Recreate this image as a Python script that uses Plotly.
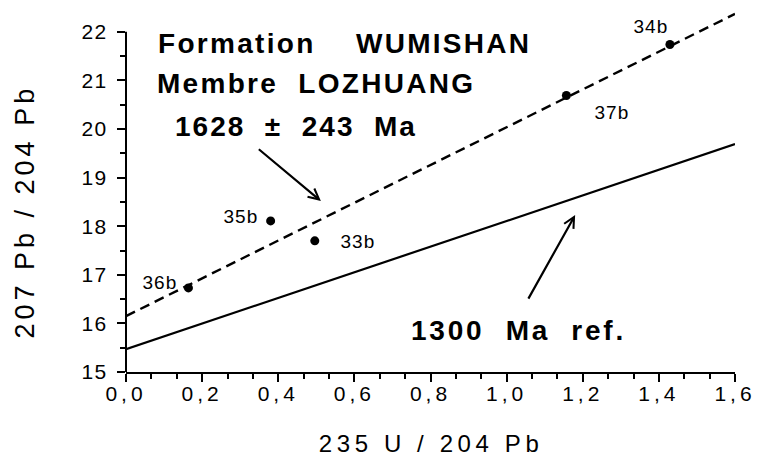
import json
import plotly.graph_objects as go

# Whole-rock samples: 235U/204Pb versus 207Pb/204Pb
sample_ids = ["36b", "35b", "33b", "37b", "34b"]
u235_pb204 = [0.164, 0.380, 0.496, 1.157, 1.429]
pb207_pb204 = [16.73, 18.11, 17.70, 20.69, 21.74]

# Isochron through the samples (dashed) and the 1300 Ma reference line (solid)
isochron_x = [0.0, 1.6]
isochron_y = [16.15, 22.37]
reference_x = [0.0, 1.6]
reference_y = [15.47, 19.69]

# Axis ticks
x_ticks = [0.0, 0.2, 0.4, 0.6, 0.8, 1.0, 1.2, 1.4, 1.6]
y_ticks = [15, 16, 17, 18, 19, 20, 21, 22]
x_tick_labels = [f"{v:.1f}".replace(".", ",") for v in x_ticks]

FONT = "Liberation Sans, Arial, Helvetica, sans-serif"
Y_TOP = 22.45  # room for the isochron running above the last tick
PLOT_W, PLOT_H = 612, 362

fig = go.Figure()

fig.add_trace(go.Scatter(
    x=reference_x, y=reference_y, mode="lines",
    line=dict(color="black", width=2.2),
    hoverinfo="skip",
))
fig.add_trace(go.Scatter(
    x=isochron_x, y=isochron_y, mode="lines",
    line=dict(color="black", width=2.4, dash="10px,6px"),
    hoverinfo="skip",
))
fig.add_trace(go.Scatter(
    x=u235_pb204, y=pb207_pb204, mode="markers",
    marker=dict(color="black", size=9),
    text=sample_ids, hoverinfo="text",
))

annotations = []
spacing = []  # letter spacing (px) applied to each annotation, in order


def add_text(text, x, y, size, ls, bold=False, xanchor="left", **kw):
    annotations.append(dict(
        text=text, x=x, y=y, xanchor=xanchor, yanchor="middle",
        showarrow=False, align="left" if xanchor == "left" else "center",
        font=dict(family=FONT, size=size, color="black",
                  weight="bold" if bold else "normal"),
        **kw,
    ))
    spacing.append(ls)


NB = "\u00a0"

# Title block
add_text("Formation" + NB * 4 + "WUMISHAN", 0.078, 21.77, 28, 2.3, bold=True)
add_text("Membre" + NB * 2 + "LOZHUANG", 0.076, 20.94, 28, 2.3, bold=True)
add_text("1628" + NB * 2 + "\u00b1" + NB * 2 + "243" + NB * 2 + "Ma", 0.123, 20.06, 28, 2.0, bold=True)
add_text("1300" + NB * 2 + "Ma" + NB * 2 + "ref.", 0.744, 15.86, 28, 2.8, bold=True)

# Sample labels, offset in pixels from each point
label_dx = [-28, -30, 43, 46, -19]
label_dy = [5, 4, -1, -17, 18]
for sid, xv, yv, dx, dy in zip(sample_ids, u235_pb204, pb207_pb204, label_dx, label_dy):
    add_text(sid, xv, yv, 19, 1.0, xanchor="center", xshift=dx, yshift=dy)

# Arrows pointing at the two lines
arrows = [
    dict(head=(0.512, 18.52), tail=(0.345, 19.61)),
    dict(head=(1.180, 18.23), tail=(1.055, 16.48)),
]
for a in arrows:
    annotations.append(dict(
        x=a["head"][0], y=a["head"][1], ax=a["tail"][0], ay=a["tail"][1],
        xref="x", yref="y", axref="x", ayref="y", text="",
        showarrow=True, arrowhead=5, arrowsize=0.95, arrowwidth=2.2,
        arrowcolor="black", standoff=0,
    ))
    spacing.append(0)

# Axis titles
add_text("207 Pb / 204 Pb", (25 - 126) / PLOT_W, (372 - 211) / PLOT_H, 27, 4.0,
         xanchor="center", xref="paper", yref="paper", textangle=-90)
add_text("235 U / 204 Pb", (432 - 126) / PLOT_W, (372 - 443) / PLOT_H, 24, 4.6,
         xanchor="center", xref="paper", yref="paper")

fig.update_layout(
    width=760, height=464, autosize=False,
    margin=dict(l=126, r=22, t=10, b=92, pad=0),
    paper_bgcolor="white", plot_bgcolor="white",
    showlegend=False,
    annotations=annotations,
    shapes=[dict(
        type="line", xref="paper", yref="paper",
        x0=0, x1=0, y0=0, y1=(y_ticks[-1] - y_ticks[0]) / (Y_TOP - y_ticks[0]),
        line=dict(color="black", width=2),
    )],
    xaxis=dict(
        range=[0, 1.6], showgrid=False, zeroline=False,
        showline=True, linecolor="black", linewidth=2,
        ticks="outside", ticklen=8, tickwidth=2, tickcolor="black",
        tickmode="array", tickvals=x_ticks, ticktext=x_tick_labels,
        tickfont=dict(family=FONT, size=21, color="black"),
        ticklabelstandoff=-6,
        minor=dict(tickmode="array",
                   tickvals=[i * 0.2 / 3 for i in range(25) if i % 3],
                   ticks="outside", ticklen=5, tickwidth=2, tickcolor="black",
                   showgrid=False),
    ),
    yaxis=dict(
        range=[y_ticks[0], Y_TOP], showgrid=False, zeroline=False,
        showline=False,
        ticks="outside", ticklen=8, tickwidth=2, tickcolor="black",
        tickmode="array", tickvals=y_ticks,
        tickfont=dict(family=FONT, size=21, color="black"),
        ticklabelstandoff=5,
        minor=dict(tickmode="array",
                   tickvals=[v + 0.5 for v in y_ticks[:-1]],
                   ticks="outside", ticklen=5, tickwidth=2, tickcolor="black",
                   showgrid=False),
    ),
)

# Wide tracking of the lettering
post_script = (
    "var gd = document.getElementById('{plot_id}');"
    "var sp = " + json.dumps(spacing) + ";"
    "gd.querySelectorAll('g.annotation').forEach(function(g){"
    "  var i = +g.getAttribute('data-index');"
    "  g.querySelectorAll('text').forEach(function(t){ t.style.letterSpacing = sp[i] + 'px'; });"
    "});"
    "gd.querySelectorAll('.xtick text').forEach(function(t){ t.style.letterSpacing = '4px'; });"
    "gd.querySelectorAll('.ytick text').forEach(function(t){ t.style.letterSpacing = '1.5px'; });"
)

fig.write_html("out.html", post_script=post_script)
